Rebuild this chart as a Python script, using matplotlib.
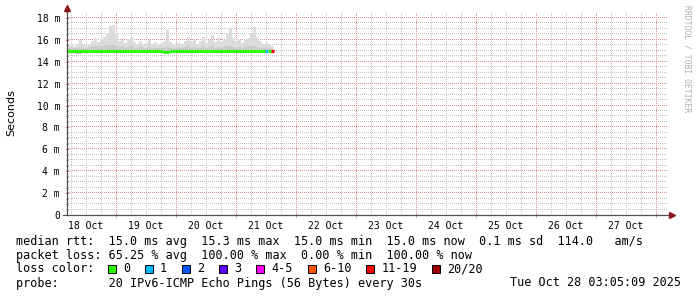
"""SmokePing-Grafik (10 Tage) mit matplotlib nachgebaut."""
import matplotlib
matplotlib.use('Agg')
import matplotlib.pyplot as plt
import matplotlib.patches as mpatches
import matplotlib.dates as mdates
import numpy as np
import pandas as pd

W, H = 697, 297

# Messpunkte (72-Minuten-Bins ab 18 Oct 04:24)
zeiten = pd.date_range('2025-10-18 04:24', periods=69, freq='72min')
smoke_hi = [15.4, 15.5, 15.4, 15.6, 16.0, 15.5, 15.4, 15.6, 15.9, 16.2,
            15.8, 16.1, 16.3, 16.6, 17.3, 17.4, 16.5, 15.9, 16.2, 15.7,
            16.1, 16.3, 15.8, 15.6, 15.9, 15.5, 15.7, 16.0, 15.6, 15.8,
            15.5, 15.7, 15.9, 16.9, 15.8, 15.6, 15.5, 15.7, 15.6, 15.9,
            16.3, 15.8, 16.1, 15.6, 15.9, 16.3, 15.7, 16.0, 16.4, 15.8,
            16.2, 15.9, 16.0, 16.5, 17.1, 16.2, 15.8, 16.0, 15.7, 16.1,
            16.2, 16.5, 17.2, 16.3, 15.9, 15.6, 15.7, 15.5, 15.4]
smoke_mid = [15.25, 15.3, 15.25, 15.3, 15.35, 15.3, 15.3, 15.35, 15.4, 15.45,
             15.4, 15.4, 15.45, 15.5, 15.5, 15.5, 15.4, 15.35, 15.4, 15.3,
             15.35, 15.4, 15.3, 15.3, 15.35, 15.3, 15.3, 15.35, 15.3, 15.3,
             15.25, 15.3, 15.3, 15.4, 15.3, 15.3, 15.25, 15.3, 15.3, 15.35,
             15.4, 15.3, 15.35, 15.3, 15.3, 15.4, 15.3, 15.35, 15.4, 15.3,
             15.35, 15.3, 15.35, 15.4, 15.45, 15.35, 15.3, 15.35, 15.3, 15.35,
             15.4, 15.4, 15.45, 15.35, 15.3, 15.3, 15.3, 15.25, 15.2]
smoke_lo = [14.85, 14.85, 14.8, 14.75, 14.75, 14.8, 14.85, 14.9, 14.9, 14.85,
            14.9, 14.9, 14.85, 14.9, 14.9, 14.9, 14.9, 14.9, 14.9, 14.9,
            14.9, 14.9, 14.9, 14.9, 14.9, 14.9, 14.9, 14.9, 14.9, 14.9,
            14.85, 14.8, 14.8, 14.8, 14.9, 14.9, 14.9, 14.9, 14.9, 14.9,
            14.9, 14.9, 14.9, 14.9, 14.9, 14.9, 14.9, 14.9, 14.9, 14.9,
            14.9, 14.9, 14.9, 14.9, 14.9, 14.9, 14.9, 14.9, 14.9, 14.9,
            14.9, 14.9, 14.9, 14.9, 14.9, 14.9, 14.9, 14.9, 14.9]
median = [15.0] * 32 + [14.92, 14.92] + [15.0] * 35
verlust = [0] * 66 + [1, 0, 15]

verlust_farben = [('0', '#26ff00'), ('1', '#00b8ff'), ('2', '#0059ff'),
                  ('3', '#5e00ff'), ('4-5', '#ff00f5'), ('6-10', '#ff5500'),
                  ('11-19', '#ff0000'), ('20/20', '#a00000')]


def farbe_fuer(v):
    if v == 0:
        return verlust_farben[0][1]
    if v == 1:
        return verlust_farben[1][1]
    if v == 2:
        return verlust_farben[2][1]
    if v == 3:
        return verlust_farben[3][1]
    if v <= 5:
        return verlust_farben[4][1]
    if v <= 10:
        return verlust_farben[5][1]
    if v <= 19:
        return verlust_farben[6][1]
    return verlust_farben[7][1]


MONO = 'DejaVu Sans Mono'
ROT = '#d98f8f'
GRAU = '#c4c4c4'
fig = plt.figure(figsize=(W / 100, H / 100), dpi=100)
fig.patch.set_facecolor('white')

# Plotbereich: x 67..668 px, y 215..12.5 px
ax = fig.add_axes([67 / W, (H - 215) / H, 601 / W, 202.5 / H])
x0 = mdates.date2num(pd.Timestamp('2025-10-18 04:24'))
x1 = x0 + 601 / 60
ymax = 18.5
ax.set_xlim(x0, x1)
ax.set_ylim(0, ymax)
for s in ax.spines.values():
    s.set_visible(False)

# Gitter: gepunktet, jeder zweite Pixel (Pixel-Marker ',')
px_x = 1 / 60.0          # Tage pro Pixel
px_y = ymax / 202.5      # m pro Pixel
dots_x = x0 + np.arange(1, 601, 2) * px_x
dots_y = np.arange(1, 202, 2) * px_y
mitternacht = []
for t in np.arange(np.ceil(x0 * 4) / 4, x1, 0.25):
    is_major = abs(t - round(t)) < 1e-6
    if is_major:
        mitternacht.append(t)
for t in np.arange(np.ceil(x0 * 4) / 4, x1, 0.25):
    if t not in mitternacht:
        ax.plot(np.full_like(dots_y, t), dots_y, ls='none', marker=',',
                color=GRAU, zorder=0)
for y in np.arange(0.5, 18.6, 0.5):
    is_major = abs(y / 2 - round(y / 2)) < 1e-6
    ax.plot(dots_x, np.full_like(dots_x, y), ls='none', marker=',',
            color=ROT if is_major else GRAU, zorder=0 if not is_major else 0.5)
for t in mitternacht:
    ax.plot(np.full_like(dots_y, t), dots_y, ls='none', marker=',',
            color=ROT, zorder=0.5)

# Smoke
xs = mdates.date2num(zeiten)
bw = 72 / 1440
xe = np.append(xs, xs[-1] + bw)
ax.fill_between(xe, np.append(smoke_lo, smoke_lo[-1]), np.append(smoke_hi, smoke_hi[-1]),
                step='post', color='#dcdcdc', lw=0, zorder=1)
ax.fill_between(xe, np.append(smoke_lo, smoke_lo[-1]), np.append(smoke_mid, smoke_mid[-1]),
                step='post', color='#cccccc', lw=0, zorder=1)

# Median nach Verlust eingefaerbt
ax.hlines(median, xs, xs + bw, colors=[farbe_fuer(v) for v in verlust],
          lw=2.3, zorder=3)

# Achsen
ax.set_yticks(np.arange(0, 19, 2))
ax.set_yticklabels(['0'] + [f'{v} m' for v in range(2, 19, 2)],
                   fontfamily=MONO, fontsize=7)
ax.set_yticks(np.arange(0.5, 18.6, 0.5), minor=True)
noon = np.arange(np.floor(x0) + 0.5, x1, 1.0)
ax.set_xticks(noon)
ax.set_xticklabels([mdates.num2date(t).strftime('%d Oct') for t in noon],
                   fontfamily=MONO, fontsize=7)
ax.set_xticks(mitternacht, minor=True)
ax.tick_params(axis='y', which='major', direction='inout', length=3, width=0.7,
               color=ROT, pad=3.5)
ax.tick_params(axis='y', which='minor', direction='inout', length=1.5, width=0.7,
               color='#909090')
ax.tick_params(axis='x', which='major', length=0, pad=4)
ax.tick_params(axis='x', which='minor', direction='inout', length=3, width=0.7,
               color=ROT)

ax.plot([0, 0], [0, 1.02], transform=ax.transAxes, color='#505050', lw=0.9,
        clip_on=False, zorder=4)
ax.plot([-0.006, 1.006], [0, 0], transform=ax.transAxes, color='#505050', lw=0.9,
        clip_on=False, zorder=4)
ax.plot([0], [1.02], transform=ax.transAxes, marker='^', ms=4, color='#8b1a1a',
        clip_on=False, zorder=5)
ax.plot([1.006], [0], transform=ax.transAxes, marker='>', ms=4, color='#8b1a1a',
        clip_on=False, zorder=5)

fig.text(11 / W, 1 - 113 / H, 'Seconds', rotation=90, ha='center', va='center',
         fontsize=8, color='black')
fig.text(687 / W, 1 - 5 / H, 'RRDTOOL / TOBI OETIKER', rotation=-90, ha='center',
         va='top', fontfamily=MONO, fontsize=5.8, color='#b0b0b0')

# Legende
fs = 8.5
zeilen = [
    'median rtt:  15.0 ms avg  15.3 ms max  15.0 ms min  15.0 ms now  0.1 ms sd  114.0   am/s',
    'packet loss: 65.25 % avg  100.00 % max  0.00 % min  100.00 % now',
    'loss color:',
    'probe:       20 IPv6-ICMP Echo Pings (56 Bytes) every 30s',
]
for i, z in enumerate(zeilen):
    fig.text(16 / W, 1 - (241 + 14 * i) / H, z, fontfamily=MONO, fontsize=fs,
             va='center', ha='left')
fig.text(681 / W, 1 - 283 / H, 'Tue Oct 28 03:05:09 2025', fontfamily=MONO,
         fontsize=fs, va='center', ha='right')

px = 108
for label, farbe in verlust_farben:
    fig.patches.append(mpatches.Rectangle((px / W, 1 - 273 / H), 8 / W, 8 / H,
                                          transform=fig.transFigure, facecolor=farbe,
                                          edgecolor='black', lw=0.7))
    fig.text((px + 15) / W, 1 - 269 / H, label, fontfamily=MONO, fontsize=fs,
             va='center', ha='left')
    px += 30 + len(label) * 7.12

plt.savefig('out.png', dpi=100)
plt.close(fig)
